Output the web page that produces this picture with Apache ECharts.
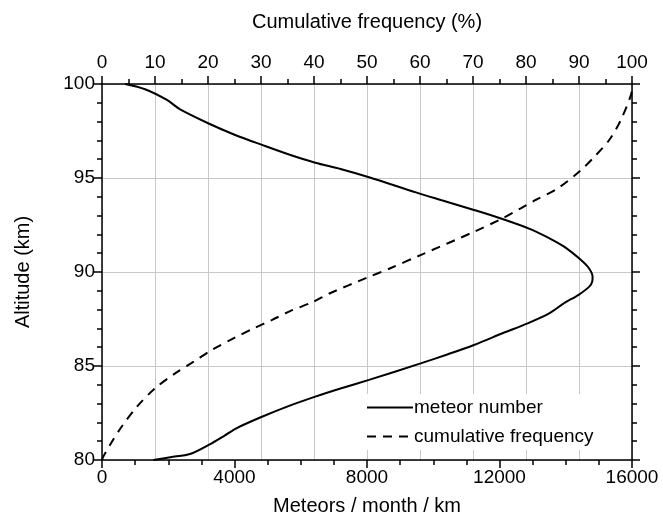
<!DOCTYPE html>
<html>
<head>
<meta charset="utf-8">
<script src="https://cdn.jsdelivr.net/npm/echarts@6/dist/echarts.min.js"></script>
<style>html,body{margin:0;padding:0;background:#fff}#c{width:663px;height:524px}</style>
</head>
<body>
<div id="c"></div>
<script>
// Meteor number (meteors / month / km) at altitude (km)
const meteorAltitude = [80.0, 80.15, 80.32, 80.8, 81.3, 81.7, 82.3, 82.84, 83.37, 83.8, 84.26, 85.14, 85.6, 86.12, 86.74, 87.27, 87.8, 88.34, 88.8, 89.22, 89.5, 89.75, 90.2, 90.64, 91.35, 91.8, 92.27, 92.82, 93.3, 93.83, 94.22, 95.04, 95.48, 95.81, 96.22, 96.76, 97.29, 97.9, 98.65, 99.15, 99.72, 100.0];
const meteorNumber = [1550, 2060, 2660, 3220, 3700, 4070, 4830, 5590, 6440, 7200, 8060, 9620, 10400, 11230, 12090, 12850, 13500, 13950, 14400, 14710, 14800, 14810, 14700, 14460, 13950, 13500, 12950, 12090, 11230, 10230, 9500, 8060, 7200, 6440, 5690, 4830, 4020, 3220, 2360, 1960, 1300, 700];
// Cumulative frequency (%) at altitude (km)
const cumAltitude = [80.0, 80.18, 80.8, 81.77, 82.84, 83.81, 84.61, 85.23, 85.85, 86.47, 87.0, 87.45, 87.92, 88.42, 88.87, 89.7, 90.2, 90.9, 92.14, 92.86, 93.39, 93.83, 94.45, 95.43, 96.13, 97.02, 98.09, 99.41, 99.8];
const cumFrequency = [0.0, 0.25, 1.5, 3.7, 6.6, 10.0, 13.8, 17.3, 20.7, 24.8, 28.6, 32.1, 35.5, 39.9, 43.0, 50.0, 54.4, 60.1, 70.2, 75.6, 79.0, 81.8, 86.0, 90.4, 92.9, 95.7, 97.9, 99.8, 100.0];
const bottomTicks = [0, 4000, 8000, 12000, 16000];
const topTicks = [0, 10, 20, 30, 40, 50, 60, 70, 80, 90, 100];
const leftTicks = [80, 85, 90, 95, 100];

const FONT = 'Liberation Sans, Arial, sans-serif';
const axisLine = {show: true, onZero: false, lineStyle: {color: '#000', width: 1.5}};
const label = {color: '#000', fontSize: 19, fontFamily: FONT, formatter: v => String(v)};
const nameStyle = {color: '#000', fontSize: 20, fontFamily: FONT};
const gridLine = {show: true, lineStyle: {color: '#c8c8c8', width: 1}};

const chart = echarts.init(document.getElementById('c'), null, {renderer: 'canvas'});
chart.setOption({
  backgroundColor: '#fff',
  animation: false,
  grid: {left: 102, right: 31, top: 84, bottom: 64, containLabel: false},
  legend: {
    left: 364, top: 394, orient: 'vertical', itemWidth: 46, itemHeight: 14, itemGap: 10,
    backgroundColor: '#fff', padding: [4, 6, 4, 2],
    itemStyle: {opacity: 0},
    textStyle: {color: '#000', fontSize: 19, fontFamily: FONT, padding: [0, 0, 0, -4]},
    data: ['meteor number', 'cumulative frequency']
  },
  xAxis: [
    {
      type: 'value', position: 'bottom', min: bottomTicks[0], max: bottomTicks[bottomTicks.length - 1], interval: 4000,
      name: 'Meteors / month / km', nameLocation: 'middle', nameGap: 36, nameTextStyle: nameStyle,
      axisLine: axisLine,
      axisTick: {show: true, inside: false, length: 8, lineStyle: {color: '#000', width: 1.5}},
      minorTick: {show: true, splitNumber: 4, length: 5, lineStyle: {color: '#000', width: 1.5}},
      axisLabel: Object.assign({margin: 8}, label),
      splitLine: {show: false}
    },
    {
      type: 'value', position: 'top', min: topTicks[0], max: topTicks[topTicks.length - 1], interval: 10,
      name: 'Cumulative frequency (%)', nameLocation: 'middle', nameGap: 52, nameTextStyle: nameStyle,
      axisLine: axisLine,
      axisTick: {show: true, inside: false, length: 8, lineStyle: {color: '#000', width: 1.5}},
      minorTick: {show: true, splitNumber: 2, length: 5, lineStyle: {color: '#000', width: 1.5}},
      axisLabel: Object.assign({margin: 12}, label),
      splitLine: gridLine
    }
  ],
  yAxis: [
    {
      type: 'value', position: 'left', min: leftTicks[0], max: leftTicks[leftTicks.length - 1], interval: 5,
      name: 'Altitude (km)', nameLocation: 'middle', nameGap: 69, nameRotate: 90, nameTextStyle: nameStyle,
      axisLine: axisLine,
      axisTick: {show: true, inside: false, length: 8, lineStyle: {color: '#000', width: 1.5}},
      minorTick: {show: true, splitNumber: 5, length: 5, lineStyle: {color: '#000', width: 1.5}},
      axisLabel: Object.assign({margin: 7}, label),
      splitLine: gridLine
    },
    {
      type: 'value', position: 'right', min: leftTicks[0], max: leftTicks[leftTicks.length - 1], interval: 5,
      axisLine: axisLine,
      axisTick: {show: true, inside: false, length: 8, lineStyle: {color: '#000', width: 1.5}},
      minorTick: {show: true, splitNumber: 5, length: 5, lineStyle: {color: '#000', width: 1.5}},
      axisLabel: {show: false},
      splitLine: {show: false}
    }
  ],
  series: [
    {
      name: 'meteor number', type: 'line', xAxisIndex: 0, yAxisIndex: 0,
      symbol: 'none', smooth: 0.3, z: 3,
      lineStyle: {color: '#000', width: 2},
      itemStyle: {color: '#000'},
      data: meteorAltitude.map((a, i) => [meteorNumber[i], a])
    },
    {
      name: 'cumulative frequency', type: 'line', xAxisIndex: 1, yAxisIndex: 0,
      symbol: 'none', smooth: 0.3, z: 3,
      lineStyle: {color: '#000', width: 2, type: [9, 7]},
      itemStyle: {color: '#000'},
      data: cumAltitude.map((a, i) => [cumFrequency[i], a])
    }
  ]
});
</script>
</body>
</html>
